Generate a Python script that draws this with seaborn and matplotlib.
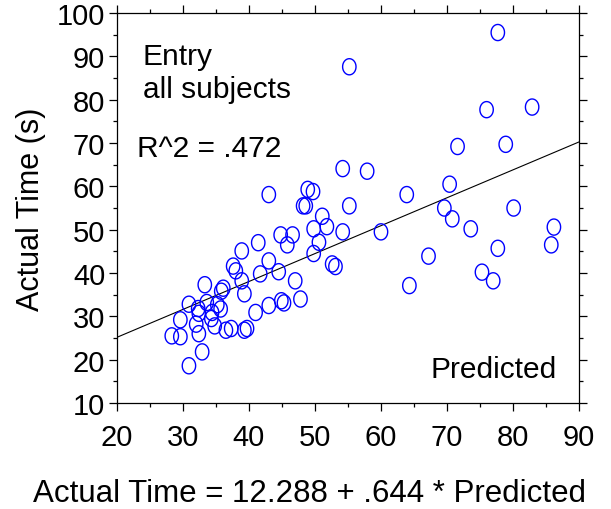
import numpy as np
import pandas as pd
import matplotlib
matplotlib.use("Agg")
import matplotlib.pyplot as plt
from matplotlib.path import Path
from matplotlib.ticker import MultipleLocator
import seaborn as sns

# ---- data ----
predicted = [77.7, 55.2, 76.0, 82.9, 71.6, 78.9, 54.2, 57.9, 70.4, 43.0,
             63.9, 48.9, 49.7, 48.2, 48.6, 55.2, 69.6, 80.1, 70.8, 51.1,
             51.8, 49.8, 54.2, 60.0, 73.6, 86.2, 85.8, 77.7, 67.2, 44.8,
             46.6, 45.8, 50.6, 49.8, 41.4, 38.9, 43.0, 52.6, 53.1, 37.6,
             38.0, 38.9, 41.7, 44.5, 47.0, 39.3, 75.3, 77.0, 64.3, 33.3,
             35.8, 36.1, 35.2, 35.7, 30.9, 29.6, 28.3, 29.6, 30.9, 32.9,
             32.3, 32.4, 32.0, 32.4, 33.6, 34.4, 34.3, 34.8, 36.5, 37.3,
             39.3, 39.7, 41.0, 43.0, 44.9, 45.3, 47.8]
actual = [95.5, 87.6, 77.7, 78.3, 69.2, 69.7, 64.1, 63.5, 60.5, 58.1,
          58.1, 59.3, 58.8, 55.5, 55.5, 55.5, 55.0, 55.0, 52.5, 53.1,
          50.7, 50.2, 49.5, 49.5, 50.2, 50.6, 46.5, 45.7, 43.9, 48.8,
          48.8, 46.5, 47.1, 44.5, 47.0, 45.1, 42.8, 42.1, 41.5, 41.6,
          40.5, 38.2, 39.8, 40.3, 38.2, 35.2, 40.2, 38.2, 37.1, 37.3,
          35.8, 36.5, 32.7, 31.7, 32.8, 29.2, 25.5, 25.3, 18.6, 21.8,
          31.8, 30.7, 28.2, 26.0, 33.2, 30.9, 29.5, 27.8, 26.8, 27.2,
          26.8, 27.2, 30.9, 32.5, 33.6, 33.1, 34.0]
intercept = 12.288
slope = 0.644
r_squared = ".472"
x_ticks = [20, 30, 40, 50, 60, 70, 80, 90]
y_ticks = [10, 20, 30, 40, 50, 60, 70, 80, 90, 100]

df = pd.DataFrame({"Predicted": predicted, "Actual": actual})
x_line = [x_ticks[0], x_ticks[-1]]
line_df = pd.DataFrame({"x": x_line, "y": [intercept + slope * v for v in x_line]})

sns.set_style("white")
plt.rcParams["font.family"] = ["Liberation Sans", "DejaVu Sans"]
for k in ["text.color", "axes.labelcolor", "xtick.color", "ytick.color",
          "axes.edgecolor"]:
    plt.rcParams[k] = "black"

fig = plt.figure(figsize=(6.11, 5.10), dpi=100)
ax = fig.add_axes([0.1915, 0.2078, 0.7561, 0.7647])

# slightly tall ellipse marker
t = np.linspace(0, 2 * np.pi, 60)
verts = np.column_stack([0.415 * np.cos(t), 0.5 * np.sin(t)])
ellipse = Path(verts, closed=True)

sns.scatterplot(data=df, x="Predicted", y="Actual", ax=ax, marker=ellipse,
                s=135, facecolor="none", edgecolor="#0000ff", linewidth=1.0,
                zorder=3)
sns.lineplot(data=line_df, x="x", y="y", ax=ax, color="black", linewidth=0.8,
             zorder=2)

ax.set_xlim(x_ticks[0], x_ticks[-1])
ax.set_ylim(y_ticks[0], y_ticks[-1])
ax.set_xticks(x_ticks)
ax.set_yticks(y_ticks)
ax.xaxis.set_minor_locator(MultipleLocator(5))
ax.yaxis.set_minor_locator(MultipleLocator(5))
ax.tick_params(which="both", direction="out", top=True, right=True,
               bottom=True, left=True, labeltop=False, labelright=False,
               color="black", width=0.9)
ax.tick_params(which="major", length=5.5, labelsize=21)
ax.tick_params(axis="x", which="major", pad=9)
ax.tick_params(axis="y", which="major", pad=3)
ax.tick_params(which="minor", length=2.6)
for s in ax.spines.values():
    s.set_color("black")
    s.set_linewidth(0.9)

ax.set_xlabel("Actual Time = 12.288 + .644 * Predicted", fontsize=22.5,
              labelpad=19, x=0.4156)
ax.set_ylabel("Actual Time (s)", fontsize=22, labelpad=8)

ax.text(0.056, 0.869, "Entry", transform=ax.transAxes, fontsize=21.5,
        ha="left", va="baseline")
ax.text(0.056, 0.784, "all subjects", transform=ax.transAxes, fontsize=21.5,
        ha="left", va="baseline")
ax.text(0.044, 0.634, "R^2 = " + r_squared, transform=ax.transAxes, fontsize=21.5,
        ha="left", va="baseline")
ax.text(0.952, 0.068, "Predicted", transform=ax.transAxes, fontsize=21.5,
        ha="right", va="baseline")

fig.savefig("out.png", dpi=100)
